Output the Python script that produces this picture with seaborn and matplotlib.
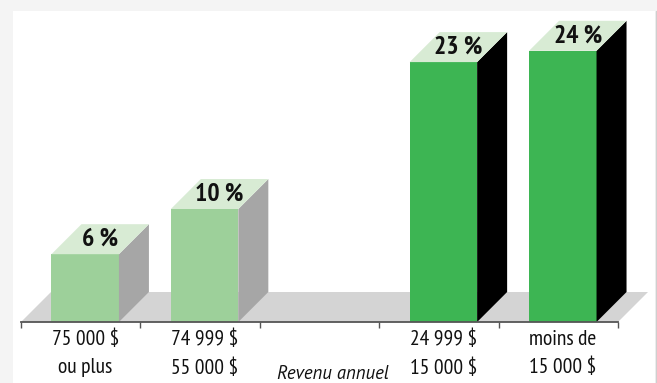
import numpy as np
import pandas as pd
import matplotlib
matplotlib.use("Agg")
import matplotlib.pyplot as plt
import seaborn as sns
from matplotlib.patches import Polygon, Rectangle
from matplotlib.lines import Line2D
from matplotlib import font_manager

# ---------------- data ----------------
categories = ["75 000 $\nou plus", "74 999 $\n55 000 $", " ", "24 999 $\n15 000 $", "moins de\n15 000 $"]
bar_categories = ["75 000 $\nou plus", "74 999 $\n55 000 $", "24 999 $\n15 000 $", "moins de\n15 000 $"]
bar_values = [6, 10, 23, 24]
value_labels = ["6 %", "10 %", "23 %", "24 %"]
axis_title = "Revenu annuel"

front_colors = ["#9dd09a", "#9dd09a", "#3db553", "#3db553"]
side_colors = ["#a6a6a6", "#a6a6a6", "#000000", "#000000"]
top_color = "#d8ebd4"
floor_color = "#d4d4d4"

# ---------------- fonts ----------------
names = {f.name for f in font_manager.fontManager.ttflist}
def pick(prefs, default):
    for n in prefs:
        if n in names:
            return n
    return default
narrow = pick(["PT Sans Narrow", "Roboto Condensed", "Fira Sans Condensed", "Archivo Narrow",
               "Liberation Sans Narrow"], "Liberation Sans")
regular = pick(["PT Sans", "Liberation Sans"], "DejaVu Sans")

sns.set_style("white")
plt.rcParams["font.family"] = [narrow, "DejaVu Sans"]

W, H = 657, 383
fig = plt.figure(figsize=(W / 100, H / 100), dpi=100, facecolor="#f4f4f4")
# white panel
fig.patches.append(Rectangle((13 / W, 0), (655 - 13) / W, (H - 11) / H,
                             transform=fig.transFigure, facecolor="white",
                             edgecolor="none", zorder=-10))
fig.lines.append(Line2D([655.5 / W, 655.5 / W], [0, (H - 11) / H], transform=fig.transFigure,
                        color="#cfcfcf", lw=1, zorder=-9))

# axes geometry (pixels)
x0px, x1px, y0px, ytop = 21, 618, 322, 11
ax = fig.add_axes([x0px / W, (H - y0px) / H, (x1px - x0px) / W, (y0px - ytop) / H])
ax.patch.set_alpha(0)
px_per_unit_y = 11.3

df = pd.DataFrame({"cat": bar_categories, "val": bar_values})
palette = dict(zip(bar_categories, front_colors))
sns.barplot(data=df, x="cat", y="val", order=categories, hue="cat", palette=palette,
            legend=False, width=0.565, saturation=1, linewidth=0, ax=ax, zorder=3)
ax.set_xlim(-0.5, 4.5)
ax.set_ylim(0, (y0px - ytop) / px_per_unit_y)

slot_px = (x1px - x0px) / 5.0
shift = 4.5 / slot_px
dxd = 30 / slot_px
dyd = 30 / px_per_unit_y

# floor
ax.add_patch(Polygon([(-0.5, 0), (-0.5 + dxd, dyd), (4.5 + dxd, dyd), (4.5, 0)],
                     closed=True, facecolor=floor_color, edgecolor="none",
                     zorder=1, clip_on=False))

for p in list(ax.patches):
    if not isinstance(p, Rectangle):
        continue
    cx = p.get_x() + p.get_width() / 2
    idx = int(round(cx))
    if idx < 0 or idx >= len(categories):
        continue
    name = categories[idx]
    if name not in bar_categories:
        continue
    k = bar_categories.index(name)
    p.set_x(p.get_x() + shift)
    p.set_zorder(3)
    xl = p.get_x()
    xr = xl + p.get_width()
    h = p.get_height()
    side = Polygon([(xr, 0), (xr + dxd, dyd), (xr + dxd, h + dyd), (xr, h)], closed=True,
                   facecolor=side_colors[k], edgecolor="none", zorder=3, clip_on=False)
    top = Polygon([(xl, h), (xr, h), (xr + dxd, h + dyd), (xl + dxd, h + dyd)], closed=True,
                  facecolor=top_color, edgecolor="none", zorder=3, clip_on=False)
    ax.add_patch(side)
    ax.add_patch(top)
    ax.text((xl + xr + dxd) / 2, h + dyd / 2, value_labels[k], ha="center", va="center",
            fontsize=18.5, fontweight="bold", family=[narrow, "DejaVu Sans"], color="#111111",
            zorder=5, clip_on=False)

# axis
for s in ["top", "right", "left"]:
    ax.spines[s].set_visible(False)
ax.spines["bottom"].set_color("#555555")
ax.spines["bottom"].set_linewidth(1.3)
ax.spines["bottom"].set_zorder(4)
ax.set_yticks([])
ax.set_xticks(np.arange(-0.5, 5.0, 1.0))
ax.set_xticklabels([""] * 6)
ax.tick_params(axis="x", which="major", length=4, width=1, color="#555555", direction="out", bottom=True)
ax.set_xticks(np.arange(5) + shift, minor=True)
ax.set_xticklabels(categories, minor=True, fontsize=15.5, linespacing=1.6, color="#111111",
                   family=[narrow, "DejaVu Sans"])
ax.tick_params(axis="x", which="minor", length=0, pad=5.5, bottom=True)
ax.set_xlabel("")
ax.set_ylabel("")

fig.text(333 / W, 1 - 379 / H, axis_title, ha="center", va="baseline", fontsize=13.5,
         style="italic", family=[regular, "DejaVu Sans"], color="#111111")

fig.savefig("out.png", dpi=100, facecolor=fig.get_facecolor())
